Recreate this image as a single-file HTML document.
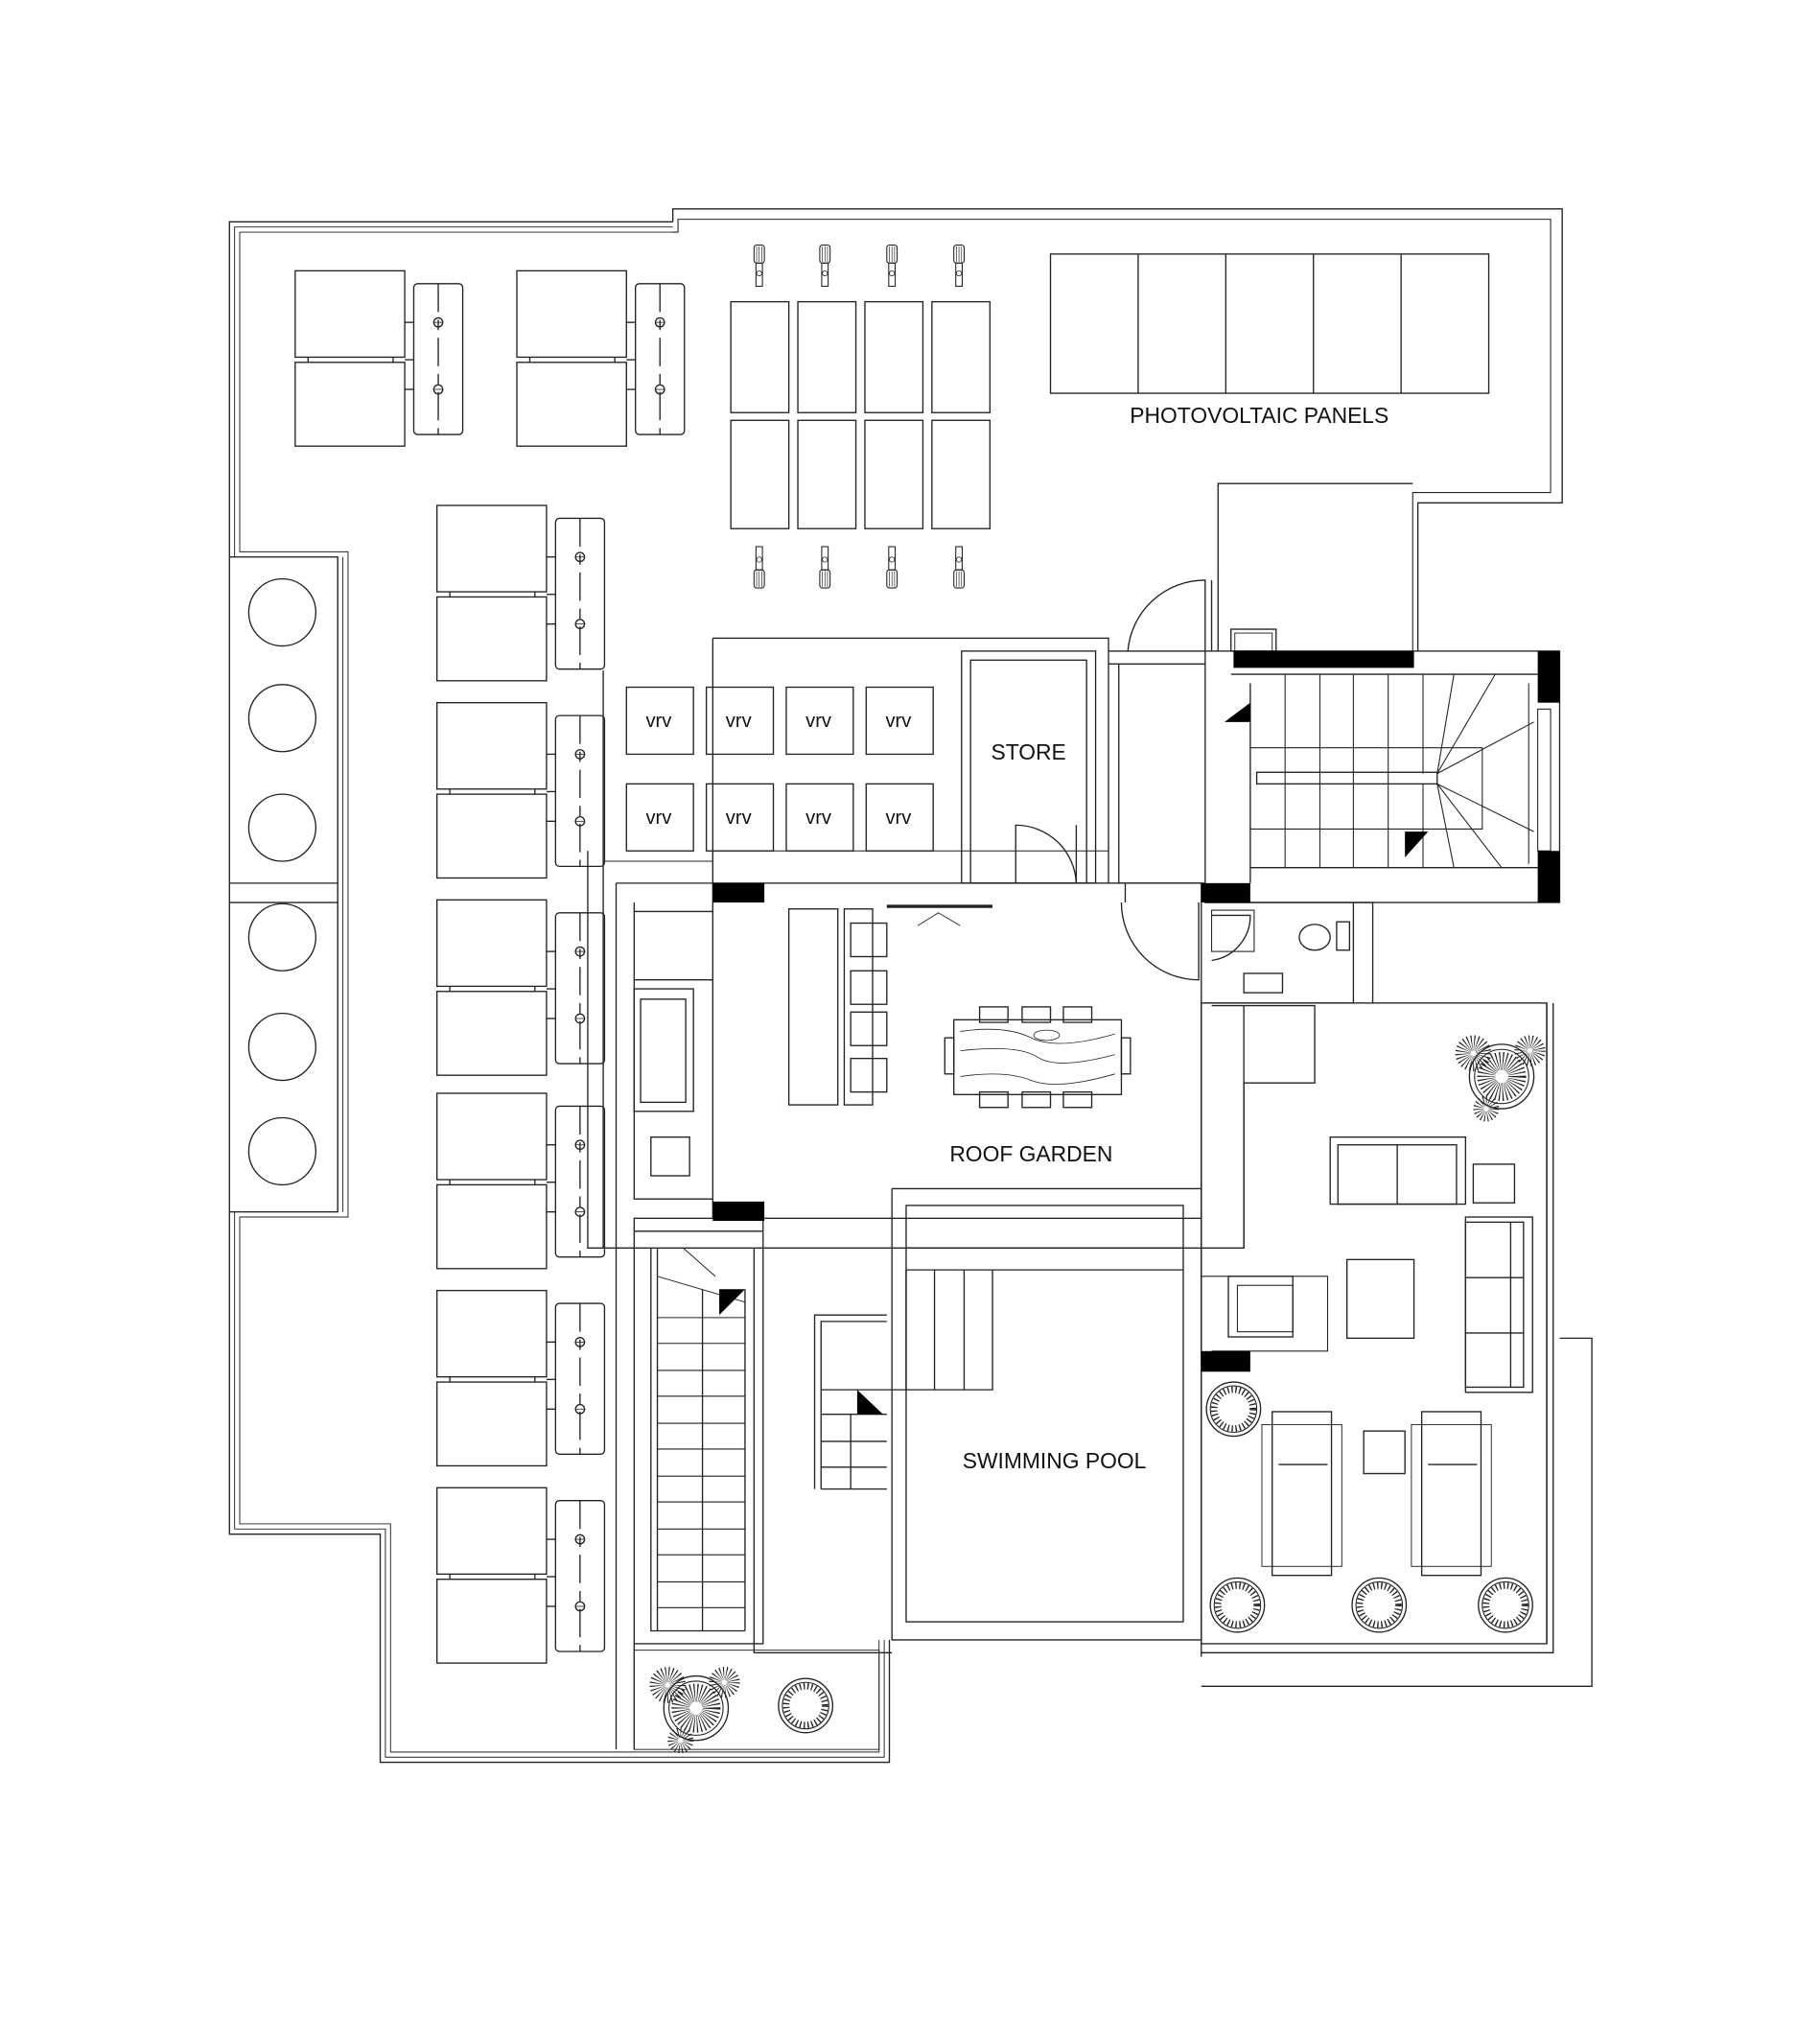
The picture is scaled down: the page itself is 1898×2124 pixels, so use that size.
<!DOCTYPE html>
<html><head><meta charset="utf-8"><style>
html,body{margin:0;padding:0;background:#fff}
svg{display:block}
text{font-family:"Liberation Sans",Arial,sans-serif;fill:#111}
</style></head><body>
<svg width="1898" height="2124" viewBox="0 0 1412 1580" xmlns="http://www.w3.org/2000/svg">
<defs>
<g id="unit">
  <rect x="0" y="0" width="85" height="67" fill="none" stroke="#222" stroke-width="1"/>
  <rect x="0" y="71" width="85" height="65" fill="none" stroke="#222" stroke-width="1"/>
  <line x1="10" y1="67" x2="10" y2="71" stroke="#222"/><line x1="76" y1="67" x2="76" y2="71" stroke="#222"/>
  <line x1="85" y1="69" x2="92" y2="69" stroke="#222"/>
  <line x1="85" y1="40" x2="92" y2="40" stroke="#222"/><line x1="85" y1="92" x2="92" y2="92" stroke="#222"/>
  <rect x="92" y="10" width="38" height="117" rx="3" fill="none" stroke="#222"/>
  <line x1="111" y1="10" x2="111" y2="127" stroke="#222" stroke-dasharray="22,6,8,6"/>
  <circle cx="111" cy="40" r="3.5" fill="none" stroke="#222"/><circle cx="111" cy="92" r="3.5" fill="none" stroke="#222"/>
  <line x1="107" y1="40" x2="115" y2="40" stroke="#222" stroke-width=".6"/><line x1="107" y1="92" x2="115" y2="92" stroke="#222" stroke-width=".6"/>
</g>
<g id="pump">
  <rect x="-4" y="0" width="8" height="14" rx="2" fill="none" stroke="#222" stroke-width=".8"/>
  <line x1="-2" y1="1" x2="-2" y2="13" stroke="#222" stroke-width=".5"/><line x1="0" y1="1" x2="0" y2="13" stroke="#222" stroke-width=".5"/><line x1="2" y1="1" x2="2" y2="13" stroke="#222" stroke-width=".5"/>
  <rect x="-2.5" y="14" width="5" height="18" fill="none" stroke="#222" stroke-width=".8"/>
  <circle cx="0" cy="22" r="2" fill="none" stroke="#222" stroke-width=".6"/>
</g>
<g id="pot">
  <circle r="21" fill="none" stroke="#222" stroke-width="1"/>
  <circle r="18" fill="none" stroke="#222" stroke-width=".8"/>
  <circle r="15" fill="none" stroke="#222" stroke-width="5" stroke-dasharray="1,2"/>
</g>
<g id="tree">
  <circle r="25" fill="none" stroke="#222" stroke-width="1"/>
  <circle r="21" fill="none" stroke="#222" stroke-width=".8"/>
  <circle r="12" fill="none" stroke="#222" stroke-width="14" stroke-dasharray=".7,1.5"/>
  <circle cx="-22" cy="-18" r="8" fill="none" stroke="#222" stroke-width="12" stroke-dasharray=".6,1.4"/>
  <circle cx="22" cy="-20" r="7" fill="none" stroke="#222" stroke-width="10" stroke-dasharray=".6,1.4"/>
  <circle cx="-12" cy="25" r="6" fill="none" stroke="#222" stroke-width="8" stroke-dasharray=".6,1.4"/>
</g>
</defs>
<g fill="none" stroke="#222" stroke-width="1">
<!-- outer walls triple lines -->
<path d="M522,172 L178,172 L178,432 M178,940 L178,1190 L295,1190 L295,1367 L690,1367 L690,1272"/>
<path d="M522,176 L182,176 L182,432 M182,940 L182,1186 L299,1186 L299,1363 L686,1363 L686,1272" stroke-width=".7"/>
<path d="M524,180 L186,180 L186,428 L270,428 L270,944 L186,944 L186,1182 L303,1182 L303,1359 L682,1359 L682,1272" stroke-width=".7"/>
<path d="M266,432 L266,940 M262,432 L262,940" stroke-width=".7"/>
<path d="M522,172 L522,162 L1212,162 L1212,390 L1100,390 L1100,505"/>
<path d="M522,180 L526,180 L526,170 L1203,170 L1203,382 L1096,382 L1096,505" stroke-width=".8"/>
<path d="M945,505 L945,375 L1096,375"/>
<!-- circle column -->
<rect x="178" y="432" width="84" height="508"/>
<line x1="178" y1="685" x2="262" y2="685"/><line x1="178" y1="700" x2="262" y2="700"/>
<circle cx="219" cy="475" r="26"/><circle cx="219" cy="557" r="26"/><circle cx="219" cy="642" r="26"/>
<circle cx="219" cy="727" r="26"/><circle cx="219" cy="812" r="26"/><circle cx="219" cy="893" r="26"/>
<!-- PV panels -->
<rect x="815" y="197" width="340" height="108"/>
<line x1="883" y1="197" x2="883" y2="305"/><line x1="951" y1="197" x2="951" y2="305"/><line x1="1019" y1="197" x2="1019" y2="305"/><line x1="1087" y1="197" x2="1087" y2="305"/>
<!-- solar collectors -->
<rect x="567" y="234" width="45" height="86"/><rect x="619" y="234" width="45" height="86"/><rect x="671" y="234" width="45" height="86"/><rect x="723" y="234" width="45" height="86"/>
<rect x="567" y="326" width="45" height="84"/><rect x="619" y="326" width="45" height="84"/><rect x="671" y="326" width="45" height="84"/><rect x="723" y="326" width="45" height="84"/>
</g>
<use href="#pump" x="589" y="190"/><use href="#pump" x="640" y="190"/><use href="#pump" x="692" y="190"/><use href="#pump" x="744" y="190"/>
<use href="#pump" transform="translate(589,456) scale(1,-1)"/><use href="#pump" transform="translate(640,456) scale(1,-1)"/><use href="#pump" transform="translate(692,456) scale(1,-1)"/><use href="#pump" transform="translate(744,456) scale(1,-1)"/>
<!-- outdoor units -->
<use href="#unit" x="229" y="210"/><use href="#unit" x="401" y="210"/>
<use href="#unit" x="339" y="392"/><use href="#unit" x="339" y="545"/><use href="#unit" x="339" y="698"/>
<use href="#unit" x="339" y="848"/><use href="#unit" x="339" y="1001"/><use href="#unit" x="339" y="1154"/>
<g fill="none" stroke="#222" stroke-width="1">
<!-- vrv zone -->
<path d="M468,520 L468,968 M456,660 L456,968 L965,968 L965,780"/>
<path d="M553,495 L860,495 L860,685" />
<path d="M553,495 L553,685"/>
<path d="M468,668 L553,668 L553,660 L860,660" stroke-width=".7"/>
<rect x="486" y="533" width="52" height="52"/><rect x="548" y="533" width="52" height="52"/><rect x="610" y="533" width="52" height="52"/><rect x="672" y="533" width="52" height="52"/>
<rect x="486" y="608" width="52" height="52"/><rect x="548" y="608" width="52" height="52"/><rect x="610" y="608" width="52" height="52"/><rect x="672" y="608" width="52" height="52"/>
<!-- store -->
<rect x="746" y="505" width="104" height="180"/>
<rect x="753" y="512" width="90" height="173"/>
<path d="M788,685 L788,640 A47,47 0 0 1 835,685"/><line x1="835" y1="640" x2="835" y2="685"/>
<!-- lobby -->
<path d="M860,505 L935,505 M860,515 L935,515 M868,515 L868,685 L935,685"/>
<path d="M935,505 L935,450 A60,60 0 0 0 875,505"/><line x1="940" y1="450" x2="940" y2="505"/>
<path d="M873,685 L873,700 M870,700 A60,60 0 0 0 930,760 L930,700"/>
<!-- stair right -->
<rect x="935" y="505" width="275" height="195"/>
<rect x="955" y="488" width="35" height="17"/>
<rect x="958" y="491" width="29" height="14" stroke-width=".7"/>
<line x1="955" y1="523" x2="1193" y2="523"/><line x1="970" y1="673" x2="1193" y2="673"/>
<line x1="970" y1="530" x2="970" y2="685"/>
<path d="M970,580 L1150,580 L1150,643 L970,643" stroke-width=".8"/>
<rect x="975" y="599" width="140" height="9"/>
<g stroke-width=".8">
<line x1="997" y1="523" x2="997" y2="673"/><line x1="1024" y1="523" x2="1024" y2="673"/><line x1="1050" y1="523" x2="1050" y2="673"/>
<line x1="1077" y1="523" x2="1077" y2="673"/><line x1="1104" y1="523" x2="1104" y2="600"/><line x1="1104" y1="608" x2="1104" y2="673"/>
<line x1="1115" y1="600" x2="1128" y2="523"/><line x1="1115" y1="600" x2="1160" y2="523"/><line x1="1115" y1="600" x2="1190" y2="560"/>
<line x1="1115" y1="608" x2="1128" y2="673"/><line x1="1115" y1="608" x2="1165" y2="673"/><line x1="1115" y1="608" x2="1190" y2="645"/>
<line x1="1186" y1="530" x2="1186" y2="670"/>
<rect x="1193" y="550" width="10" height="110"/>
</g>
<!-- roof garden -->
<rect x="553" y="685" width="379" height="260"/>
<rect x="478" y="685" width="454" height="0"/>
<path d="M478,685 L553,685 M478,685 L478,968 M492,700 L492,930 L553,930 M492,707 L553,707 M492,760 L553,760"/>
<rect x="492" y="767" width="46" height="95"/>
<rect x="497" y="775" width="35" height="80"/>
<rect x="505" y="882" width="30" height="30"/>
<rect x="612" y="705" width="38" height="152"/><rect x="655" y="705" width="22" height="152"/>
<rect x="660" y="716" width="28" height="26"/><rect x="660" y="753" width="28" height="26"/><rect x="660" y="785" width="28" height="26"/><rect x="660" y="821" width="28" height="26"/>
<!-- dining table -->
<rect x="740" y="791" width="130" height="58"/>
<rect x="733" y="805" width="7" height="28"/><rect x="870" y="805" width="7" height="28"/>
<rect x="760" y="781" width="22" height="12"/><rect x="793" y="781" width="22" height="12"/><rect x="825" y="781" width="22" height="12"/>
<rect x="760" y="847" width="22" height="12"/><rect x="793" y="847" width="22" height="12"/><rect x="825" y="847" width="22" height="12"/>
<path d="M745,800 Q780,795 800,805 T865,802 M745,815 Q790,810 805,820 T865,818 M745,835 Q780,830 800,838 T865,833" stroke-width=".6"/>
<ellipse cx="812" cy="803" rx="10" ry="4" stroke-width=".6"/>
<!-- sliding door -->
<line x1="688" y1="703" x2="770" y2="703" stroke-width="2.5"/>
<path d="M712,718 L728,708 L745,718" stroke-width=".7"/>
<!-- bathroom -->
<path d="M935,700 L1065,700 L1065,778 M1050,700 L1050,778 L935,778"/>
<rect x="940" y="706" width="33" height="32" stroke-width=".8"/>
<path d="M940,710 L970,710 A35,35 0 0 1 940,745"/>
<ellipse cx="1020" cy="727" rx="12" ry="10"/>
<rect x="1037" y="715" width="10" height="22"/>
<rect x="965" y="755" width="30" height="15"/>
<path d="M932,778 L932,1285 M940,780 L1020,780 L1020,840 L965,840 L965,968"/>
<!-- lounge -->
<rect x="932" y="778" width="268" height="497"/>
<path d="M1200,778 L1200,1275 M1205,778 L1205,1282 L932,1282 M1210,1038 L1235,1038 L1235,1308 L932,1308" />
<rect x="1032" y="882" width="105" height="52"/>
<rect x="1038" y="888" width="92" height="46"/><line x1="1084" y1="888" x2="1084" y2="934"/>
<rect x="1143" y="903" width="32" height="30"/>
<rect x="1137" y="944" width="52" height="136"/>
<rect x="1137" y="948" width="45" height="128"/><line x1="1137" y1="991" x2="1182" y2="991"/><line x1="1137" y1="1034" x2="1182" y2="1034"/><line x1="1172" y1="948" x2="1172" y2="1076"/>
<rect x="1045" y="977" width="52" height="61"/>
<rect x="953" y="990" width="50" height="47"/><rect x="960" y="997" width="43" height="36" stroke-width=".8"/>
<path d="M932,990 L1030,990 L1030,1048 L940,1048" stroke-width=".8"/>
<rect x="987" y="1095" width="46" height="127"/><rect x="979" y="1105" width="62" height="110" stroke-width=".7"/><line x1="992" y1="1136" x2="1030" y2="1136"/>
<rect x="1103" y="1095" width="46" height="127"/><rect x="1095" y="1105" width="62" height="110" stroke-width=".7"/><line x1="1108" y1="1136" x2="1146" y2="1136"/>
<rect x="1058" y="1110" width="32" height="33"/>
<!-- pool -->
<path d="M692,922 L932,922 M692,922 L692,1272 L932,1272"/>
<rect x="703" y="935" width="215" height="323"/>
<line x1="703" y1="968" x2="918" y2="968"/><line x1="703" y1="985" x2="918" y2="985"/>
<path d="M703,985 L703,1078 L770,1078 L770,985 M725,985 L725,1078 M748,985 L748,1078"/>
<!-- small stair -->
<path d="M632,1155 L632,1020 L688,1020 M637,1155 L637,1025 L688,1025 M637,1078 L703,1078 M637,1097 L688,1097 M637,1118 L688,1118 M637,1138 L688,1138 M637,1155 L688,1155 M660,1097 L660,1155"/>
<!-- left stair -->
<rect x="492" y="945" width="100" height="330"/>
<path d="M492,955 L592,955 M505,968 L505,1265 L578,1265 M510,968 L510,1265 M578,1000 L578,1265 M545,1000 L545,1265"/>
<path d="M510,990 L578,1010 M530,968 L555,990" stroke-width=".7"/>
<g stroke-width=".8">
<line x1="510" y1="1022" x2="578" y2="1022"/><line x1="510" y1="1042" x2="578" y2="1042"/><line x1="510" y1="1063" x2="578" y2="1063"/><line x1="510" y1="1083" x2="578" y2="1083"/><line x1="510" y1="1104" x2="578" y2="1104"/><line x1="510" y1="1124" x2="578" y2="1124"/><line x1="510" y1="1145" x2="578" y2="1145"/><line x1="510" y1="1165" x2="578" y2="1165"/><line x1="510" y1="1186" x2="578" y2="1186"/><line x1="510" y1="1206" x2="578" y2="1206"/><line x1="510" y1="1227" x2="578" y2="1227"/><line x1="510" y1="1247" x2="578" y2="1247"/>
</g>
<path d="M585,968 L585,1282 L692,1282 M478,968 L478,1357 M492,1275 L492,1357"/>
<rect x="492" y="1280" width="190" height="77" stroke-width=".7"/>
</g>
<!-- black columns -->
<g fill="#000">
<rect x="957" y="505" width="140" height="13"/>
<rect x="1193" y="505" width="17" height="40"/><rect x="1193" y="660" width="17" height="40"/>
<rect x="932" y="685" width="38" height="15"/>
<rect x="553" y="685" width="40" height="15"/><rect x="553" y="932" width="40" height="15"/>
<rect x="932" y="1048" width="38" height="16"/>
<path d="M950,560 L970,545 L970,560Z"/><path d="M1090,665 L1108,645 L1090,645Z"/>
<path d="M558,1020 L578,1000 L558,1000Z"/><path d="M665,1097 L685,1097 L665,1078Z"/>
</g>
<!-- plants -->
<use href="#tree" x="1165" y="835"/>
<use href="#tree" x="540" y="1325"/>
<use href="#pot" x="625" y="1323"/>
<use href="#pot" x="957" y="1093"/>
<use href="#pot" x="960" y="1245"/><use href="#pot" x="1070" y="1245"/><use href="#pot" x="1168" y="1245"/>
<!-- labels -->
<text x="977" y="328" font-size="17" text-anchor="middle">PHOTOVOLTAIC PANELS</text>
<text x="798" y="589" font-size="17" text-anchor="middle">STORE</text>
<text x="800" y="901" font-size="17" text-anchor="middle">ROOF GARDEN</text>
<text x="818" y="1139" font-size="17" text-anchor="middle">SWIMMING POOL</text>
<g font-size="15" text-anchor="middle">
<text x="511" y="564">vrv</text><text x="573" y="564">vrv</text><text x="635" y="564">vrv</text><text x="697" y="564">vrv</text>
<text x="511" y="639">vrv</text><text x="573" y="639">vrv</text><text x="635" y="639">vrv</text><text x="697" y="639">vrv</text>
</g>
</svg>
</body></html>
